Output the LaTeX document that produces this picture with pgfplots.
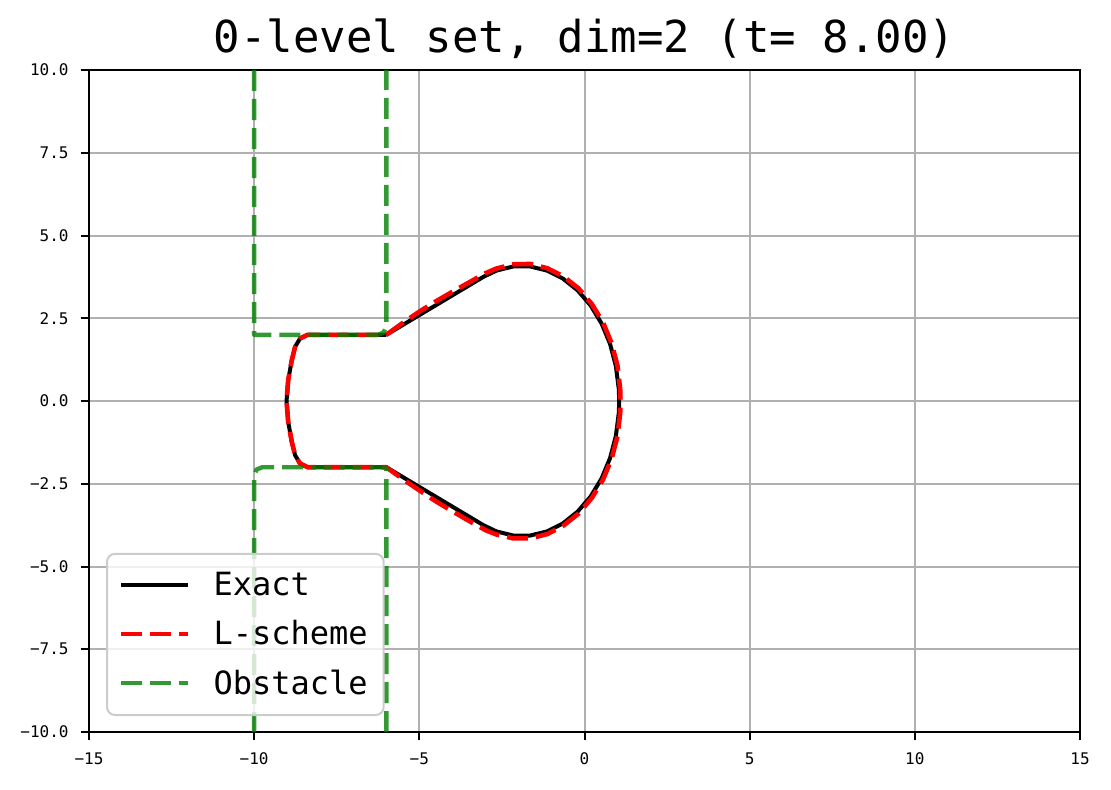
\documentclass[border=0pt]{standalone}
\usepackage{fontspec}
\setmainfont{DejaVu Sans Mono}
\usepackage{pgfplots}
\pgfplotsset{compat=1.18}
\definecolor{gridgray}{HTML}{B0B0B0}
\definecolor{obst}{rgb}{0,0.5,0}
\definecolor{legbord}{HTML}{CCCCCC}
\begin{document}
\begin{tikzpicture}
\path[use as bounding box] (-44.5pt,-28.5pt) rectangle (511pt,366pt);
\begin{axis}[
  at={(0,0)}, anchor=south west,
  scale only axis, width=495.5pt, height=331pt,
  xmin=-15, xmax=15, ymin=-10, ymax=10,
  xtick={-15,-10,-5,0,5,10,15},
  xticklabels={−15,−10,−5,0,5,10,15},
  ytick={-10,-7.5,-5,-2.5,0,2.5,5,7.5,10},
  yticklabels={−10.0,−7.5,−5.0,−2.5,0.0,2.5,5.0,7.5,10.0},
  tick label style={font=\fontsize{8}{9.6}\selectfont},
  xticklabel style={yshift=-2.5pt},
  yticklabel style={xshift=-2.5pt},
  grid=major, grid style={gridgray, line width=1pt},
  axis line style={line width=1pt},
  tick pos=left, tick align=outside, major tick length=4.2pt,
  tick style={black, line width=1pt},
  title={0-level set, dim=2 (t= 8.00)},
  title style={font=\fontsize{22}{26}\selectfont, yshift=-4pt},
  legend style={at={(0,0)}, anchor=south west, xshift=8.5pt, yshift=8pt,
    font=\fontsize{16}{19}\selectfont, draw=legbord, line width=1pt,
    rounded corners=4pt, fill=white, fill opacity=0.8, text opacity=1,
    row sep=7pt, inner xsep=6pt, inner ysep=7pt},
  legend cell align=left,
  legend image code/.code={\draw[#1] (0pt,0pt) -- (33.5pt,0pt); \path (0pt,0pt) (43pt,0pt);},
]
% Exact
\addplot[black, line width=2pt, line join=round] coordinates {
(-6,2) (-3.066,3.748) (-2.664,3.941) (-2.157,4.064) (-1.643,4.064) (-1.137,3.941)
(-0.653,3.698) (-0.208,3.342) (0.186,2.885) (0.517,2.340) (0.774,1.724) (0.949,1.056)
(1.039,0.356) (1.05,0) (1.039,-0.356) (0.949,-1.056) (0.774,-1.724) (0.517,-2.340)
(0.186,-2.885) (-0.208,-3.342) (-0.653,-3.698) (-1.137,-3.941) (-1.643,-4.064)
(-2.157,-4.064) (-2.664,-3.941) (-3.066,-3.748) (-6,-2) (-8.38,-2) (-8.61,-1.89)
(-8.76,-1.64) (-8.86,-1.24) (-8.97,-0.63) (-9.02,0) (-8.97,0.63) (-8.86,1.24)
(-8.76,1.64) (-8.61,1.89) (-8.38,2) (-6,2)
};
\addlegendentry{Exact}
% L-scheme
\addplot[red, line width=2.3pt, dash pattern=on 10.5pt off 4pt, line join=round] coordinates {
(-6,2) (-5.5,2.36) (-5,2.70) (-4.5,3.01) (-4,3.30) (-3.5,3.58) (-3.0,3.86)
(-2.676,4.00) (-2.161,4.13) (-1.639,4.14) (-1.124,4.01) (-0.632,3.76) (-0.179,3.40)
(0.221,2.93) (0.558,2.38) (0.819,1.75) (0.998,1.07) (1.08,0.36) (1.09,0)
(1.08,-0.36) (0.998,-1.07) (0.819,-1.75) (0.558,-2.38) (0.221,-2.93) (-0.179,-3.40)
(-0.632,-3.76) (-1.124,-4.02) (-1.639,-4.15) (-2.161,-4.15) (-2.676,-4.03)
(-3.0,-3.90) (-3.5,-3.62) (-4,-3.33) (-4.5,-3.03) (-5,-2.70) (-5.5,-2.36) (-6,-2)
(-8.38,-2) (-8.61,-1.89) (-8.76,-1.64) (-8.86,-1.24) (-8.97,-0.63) (-9.02,0)
(-8.97,0.63) (-8.86,1.24) (-8.76,1.64) (-8.61,1.89) (-8.38,2) (-6,2)
};
\addlegendentry{L-scheme}
% Obstacle
\addplot[obst, draw opacity=0.8, line width=2.2pt, dash pattern=on 10.5pt off 4pt, line join=round] coordinates {
(-10,10) (-10,2) (-6.25,2) (-6.08,2.07) (-6,2.25) (-6,10)
};
\addlegendentry{Obstacle}
\addplot[obst, draw opacity=0.8, line width=2.2pt, dash pattern=on 10.5pt off 4pt, line join=round, forget plot] coordinates {
(-6,-10) (-6,-2) (-9.75,-2) (-9.93,-2.07) (-10,-2.25) (-10,-10)
};
\end{axis}
\end{tikzpicture}
\end{document}
